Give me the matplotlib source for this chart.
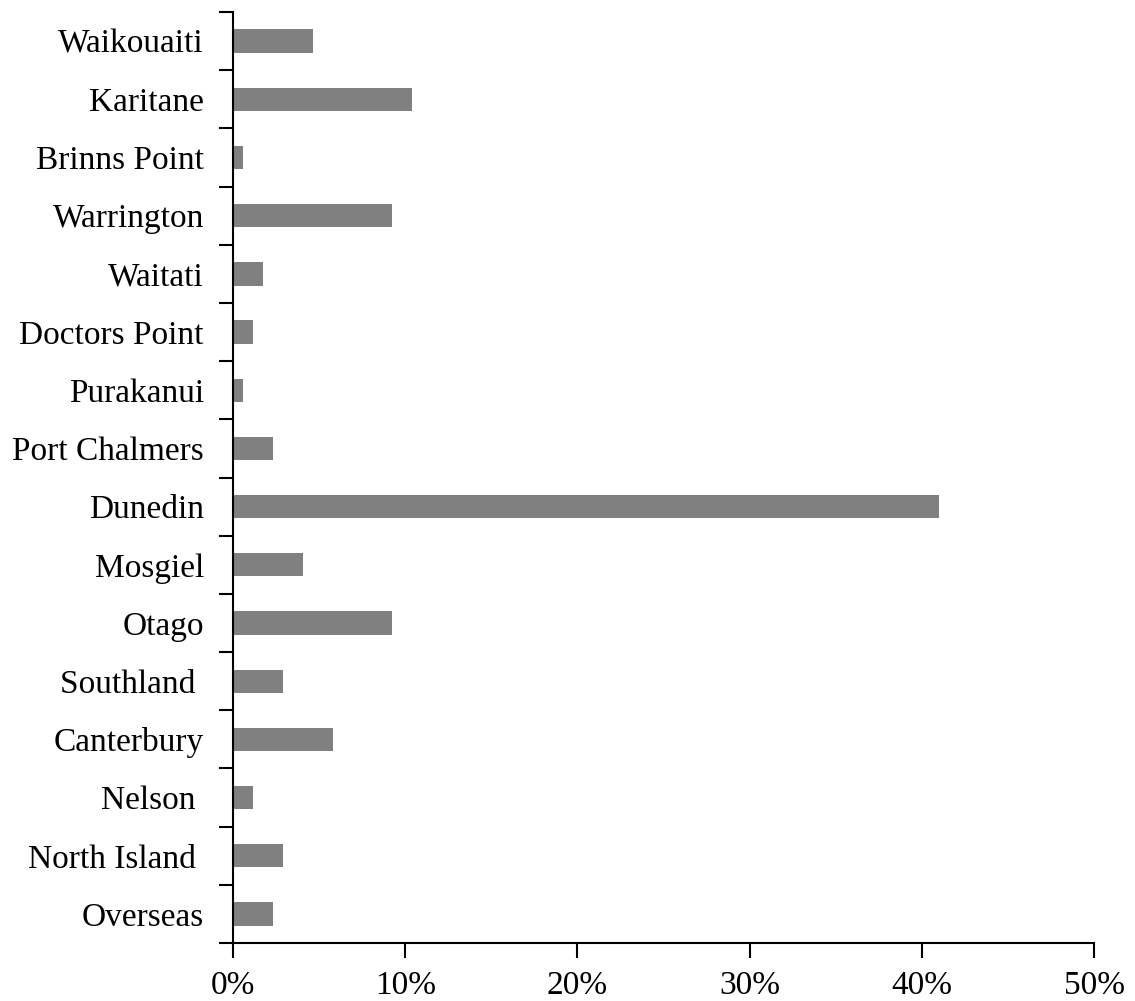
import matplotlib
matplotlib.use("Agg")
import matplotlib.pyplot as plt
from matplotlib.ticker import FixedLocator, PercentFormatter

places = ["Waikouaiti", "Karitane", "Brinns Point", "Warrington", "Waitati",
          "Doctors Point", "Purakanui", "Port Chalmers", "Dunedin", "Mosgiel",
          "Otago", "Southland ", "Canterbury", "Nelson ", "North Island ", "Overseas"]
share_pct = [4.65, 10.4, 0.58, 9.25, 1.74, 1.16, 0.58, 2.33, 41.0, 4.05,
             9.25, 2.9, 5.81, 1.16, 2.9, 2.33]
x_ticks = [0, 10, 20, 30, 40, 50]

plt.rcParams['font.family'] = ['Liberation Serif', 'DejaVu Serif']

fig = plt.figure(figsize=(11.35, 10.01), dpi=100)
ax = fig.add_axes([0.2053, 0.0579, 0.9639 - 0.2053, 0.988 - 0.0579])

ypos = list(range(len(places)))
ax.barh(ypos, share_pct, height=0.4, color="#808080", edgecolor="none")

ax.set_xlim(0, 50)
ax.set_ylim(len(places) - 0.5, -0.5)
ax.set_yticks(ypos)
ax.set_yticklabels(places)
ax.yaxis.set_minor_locator(FixedLocator([i - 0.5 for i in range(len(places) + 1)]))
ax.tick_params(axis="y", which="major", length=0, pad=21, labelsize=24)
ax.tick_params(axis="y", which="minor", length=10, width=1.5, direction="out")

ax.set_xticks(x_ticks)
ax.xaxis.set_major_formatter(PercentFormatter(decimals=0))
ax.tick_params(axis="x", which="major", length=11, width=1.5, direction="out",
               pad=9, labelsize=24)

for side in ("top", "right"):
    ax.spines[side].set_visible(False)
for side in ("left", "bottom"):
    ax.spines[side].set_linewidth(1.5)

fig.savefig("out.png", dpi=100)
